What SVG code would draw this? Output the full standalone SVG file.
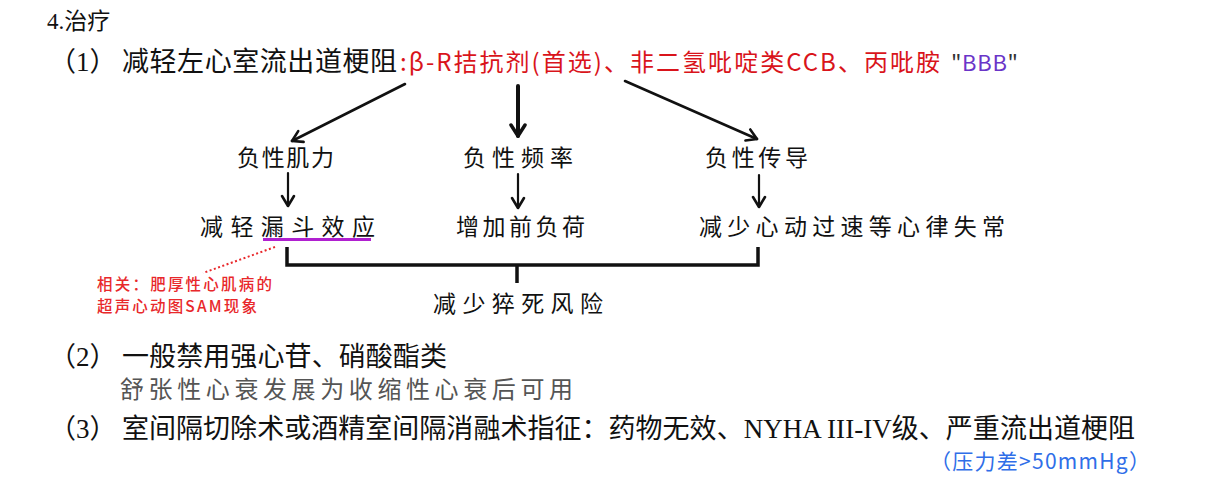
<svg xmlns="http://www.w3.org/2000/svg" width="1217" height="479" viewBox="0 0 1217 479">
<style>
.ser{font-family:"Liberation Serif","Noto Sans CJK SC",serif;fill:#111}
.hw{font-family:"Noto Sans CJK SC",sans-serif;fill:#111}
.red{font-family:"Noto Sans CJK SC",sans-serif;fill:#d9141b}
.note{font-family:"Noto Sans CJK SC",sans-serif;fill:#e8282b;font-weight:500}
.ln{stroke:#111;fill:none;stroke-linecap:round}
</style>
<defs>
<marker id="ah" viewBox="-12 -8 14 16" markerWidth="14" markerHeight="16" refX="0" refY="0" orient="auto" markerUnits="userSpaceOnUse">
<path d="M-10,-6 L0,0 L-10,6" fill="none" stroke="#111" stroke-width="2.6" stroke-linecap="round" stroke-linejoin="round"/>
</marker>
<marker id="ahb" viewBox="-14 -9 16 18" markerWidth="16" markerHeight="18" refX="0" refY="0" orient="auto" markerUnits="userSpaceOnUse">
<path d="M-11,-7 L0,0 L-11,7" fill="none" stroke="#111" stroke-width="3.5" stroke-linecap="round" stroke-linejoin="round"/>
</marker>
</defs>

<g id="title"><text class="ser" x="47" y="29" font-size="23">4.治疗</text></g>

<g id="line1">
<text class="ser" x="49" y="71" font-size="27">（1）</text>
<text class="ser" x="122" y="71" font-size="27" textLength="275">减轻左心室流出道梗阻</text>
<text class="red" x="400" y="71" font-size="24" textLength="540">:β-R拮抗剂(首选)、非二氢吡啶类CCB、丙吡胺</text>
<text x="951" y="71" font-size="22" font-family="Noto Sans CJK SC,sans-serif" textLength="67"><tspan fill="#333">"</tspan><tspan fill="#6a35c8">BBB</tspan><tspan fill="#333">"</tspan></text>
</g>

<g id="connectors">
<line class="ln" x1="405" y1="84" x2="292" y2="141" stroke-width="2.6" marker-end="url(#ah)"/>
<line class="ln" x1="518" y1="86" x2="518" y2="136" stroke-width="4" marker-end="url(#ahb)"/>
<line class="ln" x1="625" y1="81" x2="757" y2="139" stroke-width="2.6" marker-end="url(#ah)"/>
<line class="ln" x1="288" y1="173" x2="288" y2="206" stroke-width="2.2" marker-end="url(#ah)"/>
<line class="ln" x1="518" y1="174" x2="518" y2="208" stroke-width="2.2" marker-end="url(#ah)"/>
<line class="ln" x1="759" y1="175" x2="759" y2="207" stroke-width="2.2" marker-end="url(#ah)"/>
<path d="M287,247 V265 H758 V247" stroke="#111" stroke-width="3.5" fill="none"/>
<path d="M517,265 V283" stroke="#111" stroke-width="3.5" fill="none"/>
<line x1="275" y1="247" x2="203" y2="273" stroke="#e8282b" stroke-width="2" stroke-dasharray="2 2.5"/>
</g>

<g id="n-jili"><text class="hw" x="237" y="166" font-size="23" textLength="97">负性肌力</text></g>
<g id="n-pinlv"><text class="hw" x="463" y="166" font-size="23" textLength="110">负性频率</text></g>
<g id="n-chuandao"><text class="hw" x="705" y="166" font-size="23" textLength="103">负性传导</text></g>

<g id="n-loudou">
<text class="hw" x="200" y="235" font-size="23" textLength="175">减轻漏斗效应</text>
<line x1="263" y1="239.5" x2="371" y2="239.5" stroke="#b020d0" stroke-width="3"/>
</g>
<g id="n-qianfuhe"><text class="hw" x="456" y="235" font-size="23" textLength="129">增加前负荷</text></g>
<g id="n-xinlv"><text class="hw" x="699" y="235" font-size="23" textLength="306">减少心动过速等心律失常</text></g>

<g id="n-cusi"><text class="hw" x="433" y="312" font-size="23" textLength="170">减少猝死风险</text></g>

<g id="note">
<text class="note" x="97" y="290" font-size="15.5" textLength="175">相关：肥厚性心肌病的</text>
<text class="note" x="97" y="312" font-size="15.5" textLength="160">超声心动图SAM现象</text>
</g>

<g id="line2">
<text class="ser" x="49" y="366" font-size="27">（2）</text>
<text class="ser" x="122" y="366" font-size="27" textLength="325">一般禁用强心苷、硝酸酯类</text>
<text class="hw" x="120" y="398" font-size="24" style="fill:#555" textLength="453">舒张性心衰发展为收缩性心衰后可用</text>
</g>

<g id="line3">
<text class="ser" x="49" y="438" font-size="27">（3）</text>
<text class="ser" x="122" y="438" font-size="27" textLength="1013">室间隔切除术或酒精室间隔消融术指征：药物无效、NYHA III-IV级、严重流出道梗阻</text>
<text x="930" y="469" font-size="21" font-family="Noto Sans CJK SC,sans-serif" fill="#2f6ee8" textLength="220">（压力差&gt;50mmHg）</text>
</g>
</svg>
